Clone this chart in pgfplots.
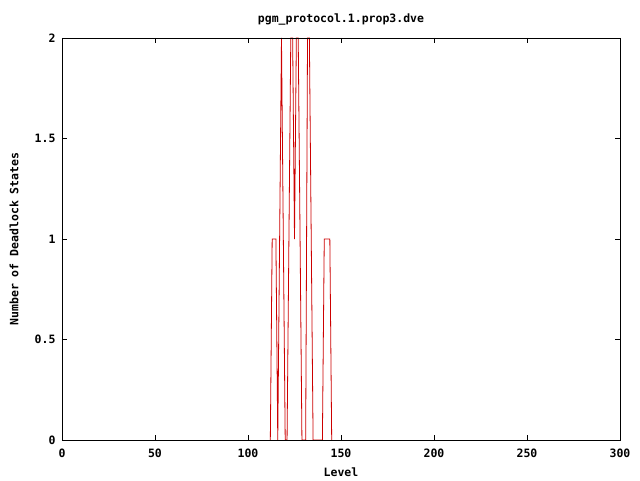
\documentclass[border=0pt]{standalone}
\usepackage{pgfplots}
\pgfplotsset{compat=1.18}
\usepackage{fontspec}
\setmonofont{DejaVu Sans Mono}
\definecolor{gpred}{RGB}{205,0,0}
\begin{document}
\begin{tikzpicture}[x=1pt,y=1pt]
\useasboundingbox (-62,-40) rectangle (578,440);
\begin{axis}[
  at={(0,0)}, anchor=south west,
  scale only axis, width=558pt, height=402pt,
  xmin=0, xmax=300, ymin=0, ymax=2,
  xtick={0,50,...,300}, ytick={0,0.5,1,1.5,2},
  yticklabels={0,0.5,1,1.5,2},
  tick align=inside, major tick length=5pt,
  axis on top,
  axis line style={black, line width=0.8pt},
  every tick/.style={black, line width=0.8pt},
  font=\fontsize{11.5}{13}\selectfont\ttfamily\bfseries,
  /pgf/number format/assume math mode=true,
  xticklabel style={yshift=-5pt},
  yticklabel style={xshift=-3pt},
  title={pgm\_protocol.1.prop3.dve},
  title style={at={(axis description cs:0.5,1)}, anchor=center, yshift=13pt},
  xlabel={Level},
  xlabel style={at={(axis description cs:0.5,0)}, anchor=center, yshift=-32pt},
  ylabel={Number of Deadlock States},
  ylabel style={at={(axis description cs:0,0.5)}, anchor=center, yshift=48pt},
]
\addplot[gpred, line width=0.8pt, mark=none] coordinates {
(112,0) (113,1) (114,1) (115,1) (116,0) (117,1) (118,2) (119,1) (120,0)
(121,0) (122,1) (123,2) (124,2) (125,1) (126,2) (127,2) (128,1) (129,0)
(130,0) (131,0) (132,2) (133,2) (134,1) (135,0) (136,0) (137,0) (138,0)
(139,0) (140,0) (141,1) (142,1) (143,1) (144,1) (145,0)
};
\end{axis}
\end{tikzpicture}
\end{document}
